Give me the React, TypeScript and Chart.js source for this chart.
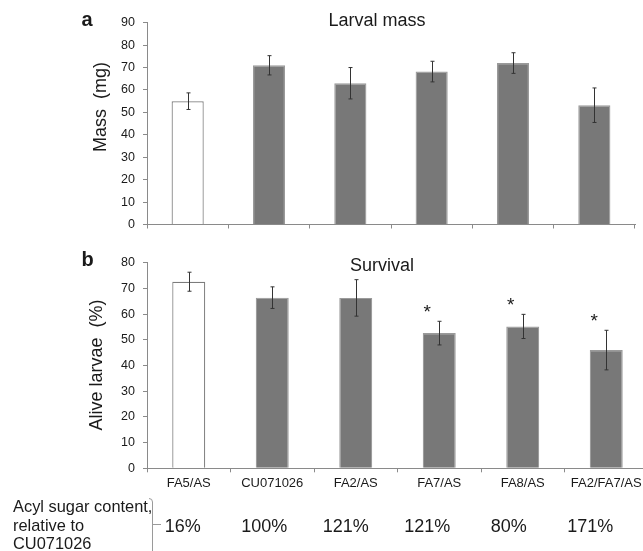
import React, { useEffect, useRef } from "react";
import { Chart, registerables } from "chart.js";

Chart.register(...registerables);

// ---------- data ----------
const categories = ["FA5/AS", "CU071026", "FA2/AS", "FA7/AS", "FA8/AS", "FA2/FA7/AS"];
const massValues = [55, 71, 63, 68.2, 72, 53.2];
const massErrors = [3.7, 4.3, 7.0, 4.6, 4.6, 7.7];
const survivalValues = [72.6, 66.4, 66.3, 52.6, 55.2, 46.0];
const survivalErrors = [3.7, 4.2, 7.1, 4.6, 4.7, 7.7];
const survivalSignificant = [false, false, false, true, true, true];
const acylContent = ["16%", "100%", "121%", "121%", "80%", "171%"];
const acylLabelLines = ["Acyl sugar content,", "relative to", "CU071026"];
const massAxis = { min: 0, max: 90, step: 10 };
const survivalAxis = { min: 0, max: 80, step: 10 };

// ---------- styles ----------
const FONT = "'Liberation Sans', Arial, sans-serif";
const BAR_GRAY = "#787878";
const BAR_EDGE_GRAY = "#9a9a9a";
const BAR_EDGE_WHITE = "#7c7c7c";
const AXIS = "#8a8a8a";
const TEXT = "#1a1a1a";
const ERR = "#333333";

const fills = categories.map((_, i) => (i === 0 ? "#ffffff" : BAR_GRAY));
const edges = categories.map((_, i) => (i === 0 ? BAR_EDGE_WHITE : BAR_EDGE_GRAY));

type PanelCfg = {
  letter: string;
  title: string;
  titleX: number;
  titleY: number;
  yTitle: string;
  yTitleX: number;
  yTitleY: number;
  values: number[];
  errors: number[];
  stars?: boolean[];
  bottom?: boolean;
};

function overlayPlugin(cfg: PanelCfg) {
  return {
    id: "overlay",
    afterDatasetsDraw(chart: any) {
      const ctx = chart.ctx as CanvasRenderingContext2D;
      const meta = chart.getDatasetMeta(0);
      const ys = chart.scales.y;
      ctx.save();
      ctx.strokeStyle = ERR;
      ctx.lineWidth = 1;
      meta.data.forEach((bar: any, i: number) => {
        const v = cfg.values[i];
        const e = cfg.errors[i];
        const x = Math.round(bar.x) + 0.5;
        const yt = ys.getPixelForValue(v + e);
        const yb = ys.getPixelForValue(v - e);
        ctx.beginPath();
        ctx.moveTo(x, yt);
        ctx.lineTo(x, yb);
        ctx.moveTo(x - 2, yt);
        ctx.lineTo(x + 2, yt);
        ctx.moveTo(x - 2, yb);
        ctx.lineTo(x + 2, yb);
        ctx.stroke();
        if (cfg.stars && cfg.stars[i]) {
          ctx.fillStyle = TEXT;
          ctx.font = `19px ${FONT}`;
          ctx.textAlign = "center";
          ctx.textBaseline = "alphabetic";
          ctx.fillText("*", bar.x - 12, yt - 14 + 10.5);
        }
      });
      ctx.restore();
    },
    afterDraw(chart: any) {
      const ctx = chart.ctx as CanvasRenderingContext2D;
      ctx.save();
      ctx.fillStyle = TEXT;
      ctx.textBaseline = "middle";
      ctx.font = `bold 20px ${FONT}`;
      ctx.textAlign = "left";
      ctx.fillText(cfg.letter, 81.5, 20);
      ctx.font = `18px ${FONT}`;
      ctx.textAlign = "center";
      ctx.fillText(cfg.title, cfg.titleX, cfg.titleY);
      ctx.save();
      ctx.translate(cfg.yTitleX, cfg.yTitleY);
      ctx.rotate(-Math.PI / 2);
      ctx.fillText(cfg.yTitle, 0, 0);
      ctx.restore();

      if (cfg.bottom) {
        const xs = chart.scales.x;
        // left description
        ctx.font = `16.4px ${FONT}`;
        ctx.textAlign = "left";
        ctx.textBaseline = "alphabetic";
        const baselines = [271.7, 291, 309];
        acylLabelLines.forEach((t, i) => ctx.fillText(t, 13, baselines[i]));
        // bracket
        ctx.strokeStyle = "#9a9a9a";
        ctx.lineWidth = 1;
        ctx.beginPath();
        ctx.moveTo(149, 258.5);
        ctx.quadraticCurveTo(152.5, 258.5, 152.5, 262);
        ctx.lineTo(152.5, 311);
        ctx.moveTo(152.5, 284.5);
        ctx.lineTo(161, 284.5);
        ctx.stroke();
        // percentages
        ctx.font = `18px ${FONT}`;
        ctx.textAlign = "center";
        ctx.textBaseline = "middle";
        acylContent.forEach((t, i) => {
          const x = xs.left + (i + 0.5) * 81.5 - 5;
          ctx.fillText(t, x, 287);
        });
      }
      ctx.restore();
    },
  };
}

function makeConfig(
  cfg: PanelCfg,
  axis: { min: number; max: number; step: number },
  canvasH: number,
  plotBottom: number,
  padRight: number,
  showX: boolean
): any {
  return {
    type: "bar",
    data: {
      labels: categories,
      datasets: [
        {
          data: cfg.values,
          backgroundColor: fills,
          borderColor: edges,
          borderWidth: 1.2,
          barPercentage: 0.395,
          categoryPercentage: 1,
        },
      ],
    },
    options: {
      responsive: false,
      animation: false,
      devicePixelRatio: 1,
      layout: { padding: { top: 22.7, left: 0, right: padRight, bottom: 0 } },
      plugins: { legend: { display: false }, tooltip: { enabled: false }, title: { display: false } },
      scales: {
        x: {
          type: "category",
          offset: true,
          grid: {
            display: true,
            offset: true,
            drawOnChartArea: false,
            drawTicks: true,
            tickLength: 4,
            color: AXIS,
          },
          border: { display: true, color: AXIS, width: 1 },
          ticks: {
            display: showX,
            color: TEXT,
            font: { family: FONT, size: 13 },
            padding: 3,
            maxRotation: 0,
            autoSkip: false,
          },
          afterFit: (s: any) => {
            s.height = canvasH - plotBottom;
          },
        },
        y: {
          min: axis.min,
          max: axis.max,
          grid: {
            display: true,
            drawOnChartArea: false,
            drawTicks: true,
            tickLength: 4,
            color: AXIS,
          },
          border: { display: true, color: AXIS, width: 1 },
          ticks: {
            stepSize: axis.step,
            color: TEXT,
            padding: 8,
            font: { family: FONT, size: 12.5 },
          },
          afterFit: (s: any) => {
            s.width = 147;
          },
        },
      },
    },
    plugins: [overlayPlugin(cfg)],
  };
}

export default function App() {
  const refA = useRef<HTMLCanvasElement | null>(null);
  const refB = useRef<HTMLCanvasElement | null>(null);

  useEffect(() => {
    const a = new Chart(
      refA.current as HTMLCanvasElement,
      makeConfig(
        {
          letter: "a",
          title: "Larval mass",
          titleX: 377,
          titleY: 21.5,
          yTitle: "Mass  (mg)",
          yTitleX: 101,
          yTitleY: 107,
          values: massValues,
          errors: massErrors,
        },
        massAxis,
        240,
        227.7,
        8,
        false
      )
    );
    const b = new Chart(
      refB.current as HTMLCanvasElement,
      makeConfig(
        {
          letter: "b",
          title: "Survival",
          titleX: 382,
          titleY: 26,
          yTitle: "Alive larvae  (%)",
          yTitleX: 97,
          yTitleY: 125,
          values: survivalValues,
          errors: survivalErrors,
          stars: survivalSignificant,
          bottom: true,
        },
        survivalAxis,
        311,
        228.3,
        12,
        true
      )
    );
    return () => {
      a.destroy();
      b.destroy();
    };
  }, []);

  return (
    <div
      style={{
        position: "fixed",
        left: 0,
        top: 0,
        width: 643,
        height: 551,
        overflow: "hidden",
        background: "#ffffff",
      }}
    >
      <canvas ref={refA} width={643} height={240} style={{ position: "absolute", left: 0, top: 0 }} />
      <canvas ref={refB} width={660} height={311} style={{ position: "absolute", left: 0, top: 240 }} />
    </div>
  );
}
